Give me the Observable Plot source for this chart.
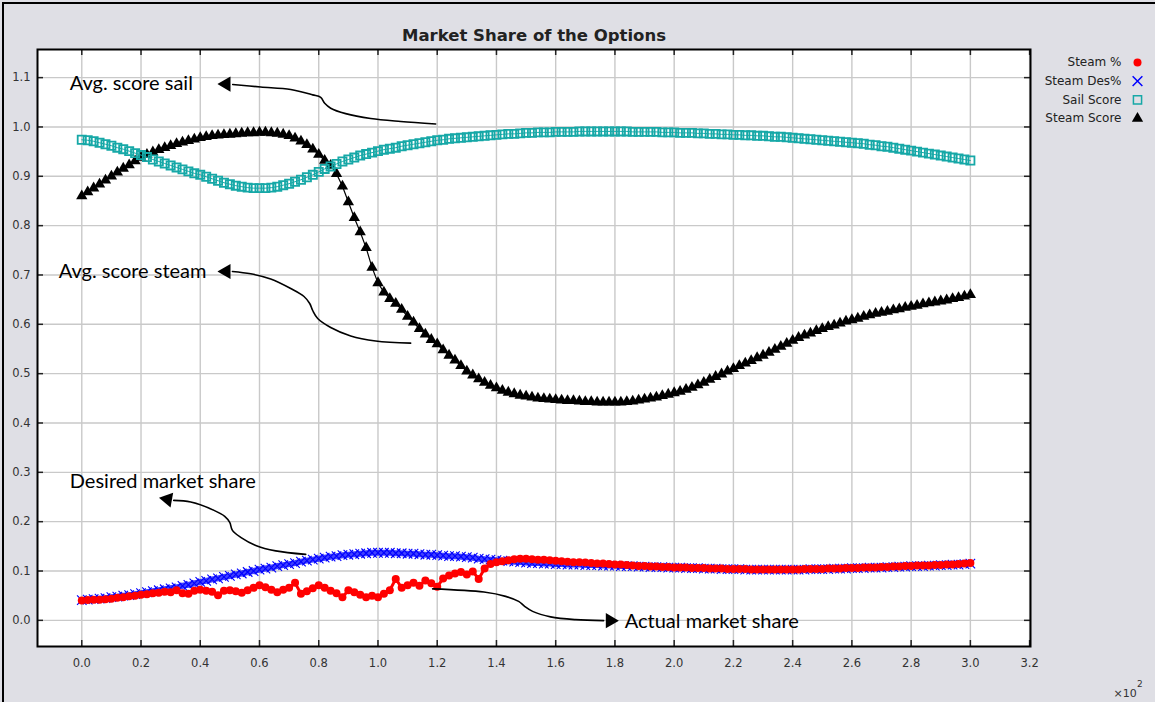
<!DOCTYPE html>
<html><head><meta charset="utf-8">
<script src="https://cdn.jsdelivr.net/npm/d3@7"></script>
<script src="https://cdn.jsdelivr.net/npm/@observablehq/plot@0.6"></script>
<style>
html,body{margin:0;padding:0;background:#dfdfe5;}
#wrap{position:relative;width:1155px;height:702px;overflow:hidden;}
#wrap svg{display:block;}
#wrap .bl{position:absolute;left:2px;top:2px;width:2px;height:700px;background:#000;}
#wrap .bt{position:absolute;left:2px;top:2px;width:1153px;height:2px;background:#000;}
</style></head><body>
<div id="wrap"><div class="bl"></div><div class="bt"></div></div>
<script>
// ---- data ----
const title = "Market Share of the Options";
const legendLabels = ["Steam %", "Steam Des%", "Sail Score", "Steam Score"];
const xTickLabels = ["0.0","0.2","0.4","0.6","0.8","1.0","1.2","1.4","1.6","1.8","2.0","2.2","2.4","2.6","2.8","3.0","3.2"];
const yTickLabels = ["0.0","0.1","0.2","0.3","0.4","0.5","0.6","0.7","0.8","0.9","1.0","1.1"];
const steps = d3.range(0, 301, 2); // time steps (x10^2 on axis)

const steamActual = [
0.040,0.041,0.042,0.042,0.043,0.044,0.046,0.047,0.049,0.050,
0.052,0.053,0.055,0.056,0.058,0.057,0.061,0.055,0.054,0.060,
0.062,0.060,0.058,0.051,0.060,0.061,0.059,0.056,0.061,0.066,
0.071,0.067,0.062,0.057,0.062,0.066,0.076,0.054,0.059,0.065,
0.071,0.066,0.060,0.055,0.047,0.061,0.057,0.052,0.047,0.050,
0.047,0.054,0.061,0.084,0.066,0.071,0.076,0.070,0.081,0.075,
0.068,0.085,0.091,0.095,0.098,0.093,0.099,0.084,0.105,0.114,
0.118,0.120,0.122,0.124,0.125,0.125,0.124,0.123,0.123,0.122,
0.121,0.120,0.119,0.118,0.118,0.117,0.116,0.115,0.115,0.114,
0.113,0.113,0.112,0.111,0.110,0.110,0.109,0.109,0.108,0.108,
0.107,0.107,0.107,0.106,0.106,0.106,0.105,0.105,0.105,0.104,
0.104,0.104,0.104,0.103,0.103,0.103,0.103,0.103,0.103,0.103,
0.103,0.103,0.104,0.104,0.104,0.104,0.105,0.105,0.105,0.106,
0.106,0.106,0.107,0.107,0.107,0.108,0.108,0.109,0.109,0.110,
0.110,0.111,0.111,0.111,0.112,0.112,0.113,0.113,0.114,0.115,
0.116];

const steamDesired = [
0.041,0.042,0.043,0.044,0.045,0.047,0.048,0.050,0.051,0.053,
0.055,0.057,0.059,0.061,0.063,0.065,0.067,0.070,0.072,0.075,
0.078,0.080,0.083,0.085,0.088,0.090,0.093,0.095,0.098,0.100,
0.103,0.105,0.107,0.110,0.112,0.114,0.116,0.119,0.121,0.123,
0.125,0.127,0.129,0.130,0.132,0.133,0.134,0.135,0.136,0.137,
0.137,0.137,0.137,0.136,0.136,0.135,0.135,0.134,0.133,0.133,
0.132,0.131,0.130,0.130,0.129,0.128,0.127,0.125,0.124,0.123,
0.122,0.121,0.120,0.119,0.118,0.117,0.116,0.116,0.115,0.115,
0.114,0.114,0.113,0.113,0.113,0.112,0.112,0.112,0.111,0.111,
0.111,0.110,0.110,0.110,0.109,0.109,0.108,0.108,0.108,0.107,
0.107,0.107,0.106,0.106,0.106,0.105,0.105,0.105,0.104,0.104,
0.104,0.104,0.103,0.103,0.103,0.103,0.103,0.103,0.103,0.103,
0.103,0.103,0.103,0.104,0.104,0.104,0.104,0.105,0.105,0.105,
0.106,0.106,0.106,0.107,0.107,0.107,0.108,0.108,0.109,0.109,
0.110,0.110,0.110,0.111,0.111,0.112,0.112,0.113,0.113,0.114,
0.115];

const sailScore = [
0.974,0.973,0.971,0.968,0.965,0.962,0.958,0.955,0.951,0.947,
0.943,0.939,0.934,0.930,0.926,0.922,0.918,0.914,0.910,0.906,
0.903,0.899,0.895,0.891,0.887,0.884,0.881,0.879,0.877,0.876,
0.876,0.876,0.877,0.879,0.882,0.885,0.889,0.893,0.898,0.903,
0.909,0.915,0.920,0.925,0.930,0.934,0.938,0.942,0.945,0.948,
0.951,0.954,0.956,0.958,0.961,0.963,0.965,0.967,0.969,0.971,
0.973,0.974,0.976,0.977,0.978,0.979,0.980,0.981,0.982,0.983,
0.984,0.985,0.986,0.986,0.987,0.988,0.988,0.989,0.989,0.989,
0.990,0.990,0.990,0.990,0.991,0.991,0.991,0.991,0.991,0.991,
0.991,0.991,0.991,0.990,0.990,0.990,0.990,0.990,0.989,0.989,
0.989,0.988,0.988,0.988,0.987,0.987,0.986,0.986,0.985,0.985,
0.984,0.984,0.983,0.983,0.982,0.982,0.981,0.980,0.980,0.979,
0.978,0.977,0.976,0.975,0.974,0.973,0.972,0.971,0.970,0.969,
0.968,0.967,0.966,0.964,0.963,0.961,0.960,0.958,0.956,0.954,
0.952,0.950,0.948,0.946,0.944,0.942,0.940,0.938,0.936,0.934,
0.932];

const steamScore = [
0.860,0.868,0.876,0.884,0.892,0.900,0.908,0.916,0.923,0.931,
0.938,0.944,0.949,0.954,0.958,0.962,0.966,0.969,0.972,0.975,
0.978,0.980,0.982,0.983,0.984,0.985,0.986,0.987,0.988,0.988,
0.989,0.989,0.988,0.987,0.985,0.982,0.977,0.971,0.964,0.955,
0.944,0.932,0.922,0.905,0.880,0.848,0.816,0.787,0.755,0.715,
0.684,0.665,0.652,0.642,0.630,0.616,0.604,0.591,0.580,0.569,
0.560,0.548,0.537,0.527,0.516,0.505,0.497,0.489,0.482,0.476,
0.471,0.466,0.462,0.459,0.456,0.454,0.452,0.450,0.449,0.448,
0.447,0.446,0.445,0.445,0.444,0.443,0.443,0.442,0.442,0.442,
0.442,0.442,0.443,0.444,0.446,0.448,0.450,0.452,0.455,0.458,
0.461,0.464,0.468,0.472,0.477,0.482,0.488,0.494,0.499,0.505,
0.510,0.516,0.521,0.526,0.532,0.537,0.543,0.549,0.555,0.561,
0.567,0.573,0.578,0.582,0.587,0.591,0.595,0.598,0.602,0.606,
0.609,0.612,0.616,0.619,0.622,0.624,0.626,0.629,0.631,0.634,
0.636,0.638,0.641,0.643,0.645,0.647,0.649,0.652,0.654,0.657,
0.660];

// annotations (data coordinates)
const annotationTexts = ["Avg. score sail", "Avg. score steam", "Desired market share", "Actual market share"];
const annotationX = [-4.05, -7.76, -4.05, 183.3];
const annotationY = [1.088, 0.707, 0.282, -0.002];
const arrowSail = [[50.96,1.086],[60.41,1.081],[70.54,1.076],[77.96,1.065],[80.66,1.060],[82.01,1.048],[84.04,1.038],[89.10,1.027],[97.54,1.017],[107.66,1.011],[119.47,1.006]];
const arrowSteam = [[50.86,0.7071],[57.04,0.7024],[63.79,0.6919],[70.54,0.6726],[75.03,0.6564],[76.95,0.6422],[77.96,0.6280],[79.65,0.6118],[84.04,0.5936],[90.79,0.5764],[99.22,0.5663],[111.03,0.5618]];
const arrowDesired = [[31.05,0.2431],[36.79,0.2397],[44.65,0.2229],[48.26,0.2107],[49.95,0.1985],[50.86,0.1823],[53.66,0.1682],[58.72,0.1519],[65.47,0.1408],[75.60,0.1337]];
const arrowActual = [[118.46,0.0638],[135.77,0.0573],[143.10,0.0486],[147.49,0.0385],[149.51,0.0284],[152.21,0.0182],[158.28,0.0071],[166.72,0.0014],[176.17,-0.0006]];
const arrowHeadX = [48.73, 48.73, 28.96, 178.4];
const arrowHeadY = [1.0869, 0.7071, 0.2453, -0.0006];
const arrowHeadAngle = [-90, -90, -80, 90];

// ---- build ----
const xTicks = xTickLabels.map(s => Math.round(+s * 100));
const yTicks = yTickLabels.map(Number);
const rows = steps.map((t, i) => ({t, actual: steamActual[i], desired: steamDesired[i], sail: sailScore[i], steam: steamScore[i]}));
const arrows = [arrowSail, arrowSteam, arrowDesired, arrowActual].flatMap((a, k) => a.map(p => ({x: p[0], y: p[1], k})));
const heads = arrowHeadX.map((x, i) => ({x, y: arrowHeadY[i], a: arrowHeadAngle[i]}));
const notes = annotationTexts.map((text, i) => ({text, x: annotationX[i], y: annotationY[i]}));

const W = 1155, H = 702, ML = 37, MR = 125, MT = 49, MB = 56;
const FW = W - ML - MR, FH = H - MT - MB;
const tickLen = 6;

const RED = "#ff0000", BLUE = "#0000ff", TEAL = "#16a8a7";

const legendSymbols = [
  {symbol: "circle", fill: RED, stroke: "none", r: 4},
  {symbol: "times", fill: "none", stroke: BLUE, r: 4.5, strokeWidth: 1.5},
  {symbol: "square", fill: "none", stroke: TEAL, r: 4.6, strokeWidth: 1.5},
  {symbol: "triangle", fill: "#000", stroke: "none", r: 4.2}
];

const legendMarks = legendLabels.flatMap((label, i) => [
  Plot.text([label], {frameAnchor: "top-right", dx: 91, dy: 13 + i * 18.7, textAnchor: "end", lineAnchor: "middle", fontSize: 12, fill: "#222"}),
  Plot.dot([label], {frameAnchor: "top-right", dx: 107, dy: 13 + i * 18.7, ...legendSymbols[i]})
]);

const chart = Plot.plot({
  width: W, height: H,
  marginLeft: ML, marginRight: MR, marginTop: MT, marginBottom: MB,
  style: {background: "#dfdfe5", fontFamily: "DejaVu Sans", fontSize: "11px", color: "#333"},
  x: {domain: [-14.95, 320.3]},
  y: {domain: [-0.053, 1.157]},
  marks: [
    Plot.frame({fill: "white", stroke: null}),
    Plot.gridX(xTicks, {stroke: "#c9c9c9", strokeOpacity: 1, strokeWidth: 1.4}),
    Plot.gridY(yTicks, {stroke: "#c9c9c9", strokeOpacity: 1, strokeWidth: 1.4}),
    // inner tick marks
    Plot.ruleX(xTicks, {x: d => d, insetTop: FH - tickLen, stroke: "#222", strokeWidth: 1.5}),
    Plot.ruleX(xTicks, {x: d => d, insetBottom: FH - tickLen, stroke: "#222", strokeWidth: 1.5}),
    Plot.ruleY(yTicks, {y: d => d, insetRight: FW - tickLen, stroke: "#222", strokeWidth: 1.5}),
    Plot.ruleY(yTicks, {y: d => d, insetLeft: FW - tickLen, stroke: "#222", strokeWidth: 1.5}),
    // series: Steam Des%
    Plot.line(rows, {x: "t", y: "desired", stroke: BLUE, strokeWidth: 6, strokeOpacity: 0.75}),
    Plot.dot(rows, {x: "t", y: "desired", symbol: "times", stroke: BLUE, r: 4.4, strokeWidth: 1.1}),
    // Steam %
    Plot.line(rows, {x: "t", y: "actual", stroke: RED, strokeWidth: 3}),
    Plot.dot(rows, {x: "t", y: "actual", symbol: "circle", fill: RED, r: 4}),
    // Steam Score
    Plot.line(rows, {x: "t", y: "steam", stroke: "#000", strokeWidth: 1.2}),
    Plot.dot(rows, {x: "t", y: "steam", symbol: "triangle", fill: "#000", r: 4.2}),
    // Sail Score
    Plot.line(rows, {x: "t", y: "sail", stroke: TEAL, strokeWidth: 1}),
    Plot.dot(rows, {x: "t", y: "sail", symbol: "square", fill: "none", stroke: TEAL, strokeWidth: 1.8, r: 4.6}),
    // frame
    Plot.frame({stroke: "#000", strokeWidth: 2}),
    // annotations
    Plot.line(arrows, {x: "x", y: "y", z: "k", curve: "catmull-rom", stroke: "#000", strokeWidth: 1.6}),
    Plot.dot(heads, {x: "x", y: "y", rotate: "a", symbol: "triangle", r: 5.6, fill: "#000"}),
    Plot.text(notes, {x: "x", y: "y", text: "text", textAnchor: "start", fontFamily: "Lato", fontSize: 20, fill: "#000"}),
    // axes
    Plot.axisX(xTicks, {tickSize: 0, tickPadding: 12, label: null, fontSize: 11.5, color: "#333", tickFormat: d => xTickLabels[xTicks.indexOf(d)]}),
    Plot.axisY(yTicks, {tickSize: 0, tickPadding: 7, label: null, fontSize: 11.5, color: "#333", tickFormat: d => yTickLabels[yTicks.indexOf(d)]}),
    // title
    Plot.text([title], {frameAnchor: "top", dy: -14, lineAnchor: "middle", fontWeight: "bold", fontSize: 16.5, fill: "#222"}),
    // x10^2
    Plot.text(["\u00d710"], {frameAnchor: "bottom-right", dx: 83, dy: 46.5, textAnchor: "start", lineAnchor: "middle", fontSize: 11, fill: "#333"}),
    Plot.text(["2"], {frameAnchor: "bottom-right", dx: 106.5, dy: 37.5, textAnchor: "start", lineAnchor: "middle", fontSize: 9, fill: "#333"}),
    ...legendMarks
  ]
});
const wrap = document.getElementById("wrap");
wrap.insertBefore(chart, wrap.firstChild);
</script>
</body></html>
